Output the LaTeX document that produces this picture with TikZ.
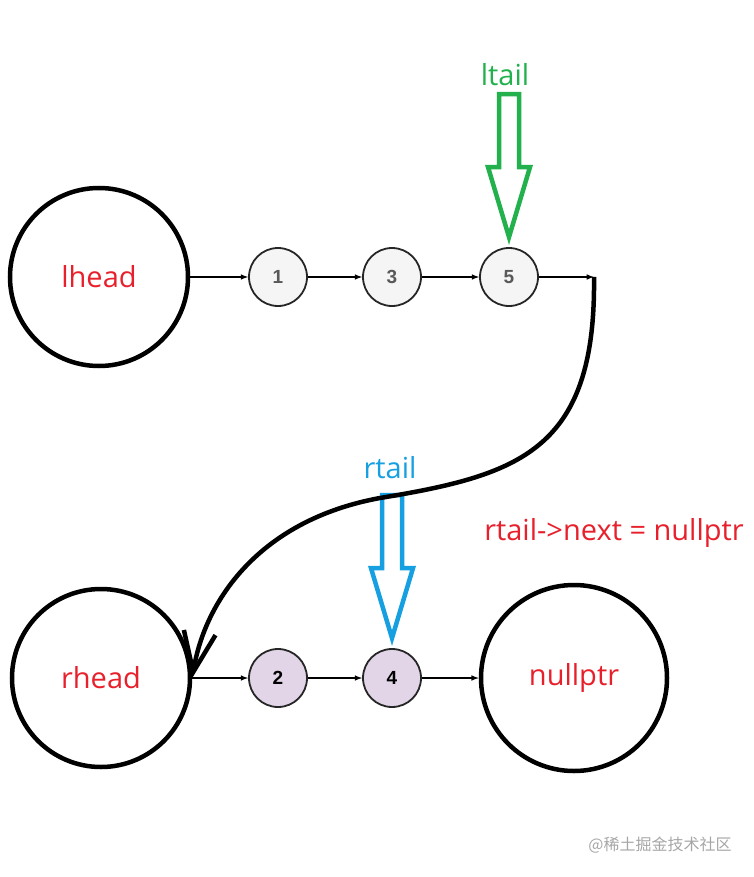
\documentclass[tikz,border=0pt]{standalone}
\usepackage{fontspec}
\setmainfont{Open Sans}
\newfontfamily\numfont{Liberation Sans}
\newfontfamily\cjkfont{Noto Sans CJK SC}
\usetikzlibrary{arrows.meta}
\usetikzlibrary{positioning}
\definecolor{lblred}{RGB}{232,32,44}
\definecolor{tailgreen}{RGB}{34,177,76}
\definecolor{tailblue}{RGB}{22,160,226}
\definecolor{lfill}{RGB}{245,245,245}
\definecolor{rfill}{RGB}{225,213,231}

\begin{document}
\begin{tikzpicture}[x=1pt, y=-1pt, on grid, >=latex,
    bignode/.style={circle, draw, line width=4.5pt, minimum size=178pt, text=lblred, font=\fontsize{29}{29}\selectfont},
    lnode/.style={circle, draw=black!85, line width=1.8pt, fill=lfill, minimum size=58pt, text=black!65, font=\numfont\bfseries\fontsize{19}{19}\selectfont},
    rnode/.style={lnode, fill=rfill, text=black},
    link/.style={->, line width=1.5pt},
    tailtxt/.style={font=\fontsize{29}{29}\selectfont},
    pics/hollowdown/.style={code={
      \draw[line width=4.5pt, miter limit=20] (-10,-143) -- (10,-143) -- (10,-70) -- (21,-70) -- (0,0) -- (-21,-70) -- (-10,-70) -- cycle;}}]
  \useasboundingbox (0,0) rectangle (754,877);

  % upper list
  \node[bignode] (lhead) at (99,277) {lhead};
  \node[lnode]   (l_1) [right=179pt of lhead] {1};
  \node[lnode]   (l_3) [right=114pt of l_1]   {3};
  \node[lnode]   (l_5) [right=117pt of l_3]   {5};
  \coordinate[right=85pt of l_5] (l_end);
  \draw[link] (lhead) -- (l_1);
  \draw[link] (l_1) -- (l_3);
  \draw[link] (l_3) -- (l_5);
  \draw[link] (l_5) -- (l_end);

  % lower list
  \node[bignode] (rhead) at (101,678) {rhead};
  \node[rnode]   (r_2) [right=177pt of rhead] {2};
  \node[rnode]   (r_4) [right=114pt of r_2]   {4};
  \node[bignode, minimum size=186pt] (nullptr) [right=182pt of r_4] {nullptr};
  \draw[link] (rhead) -- (r_2);
  \draw[link] (r_2) -- (r_4);
  \draw[link] (r_4) -- (nullptr);

  % tail pointers
  \pic[color=tailgreen] at ([yshift=10pt]l_5.north) {hollowdown};
  \node[tailtxt, text=tailgreen] (ltail) at (505,75) {ltail};
  \pic[color=tailblue] at ([yshift=10pt]r_4.north) {hollowdown};
  \node[tailtxt, text=tailblue] (rtail) at (390,468) {rtail};

  % splice
  \draw[line width=4.5pt, -{Straight Barb[length=40pt, width=32pt]}]
    (l_end) .. controls (596,450) and (520,475) .. (380,498)
            .. controls (260,520) and (205,600) .. (rhead.east);
  \node[tailtxt, text=lblred] (note) at (614,533) {rtail->next = nullptr};

  \node[text=black!35, font=\cjkfont\fontsize{16}{16}\selectfont] (mark) at (660,845) {@稀土掘金技术社区};
\end{tikzpicture}
\end{document}
